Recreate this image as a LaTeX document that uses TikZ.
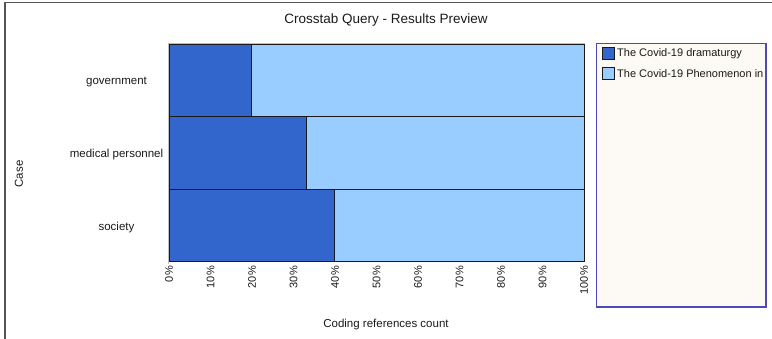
\documentclass[tikz,border=0pt]{standalone}
\usepackage{fontspec}
\setmainfont{Liberation Sans}
\definecolor{darkbar}{HTML}{3366CC}
\definecolor{lightbar}{HTML}{99CCFF}
\definecolor{legborder}{HTML}{4A4AB8}
\definecolor{legfill}{HTML}{FDFAF5}
\definecolor{framegray}{HTML}{555555}
\definecolor{textgray}{HTML}{1A1A1A}
\tikzset{
  barseg/.style={draw=black!90, line width=1pt},
  ticklab/.style={rotate=90, anchor=east, inner sep=0pt, font=\fontsize{11}{12}\selectfont, text=textgray},
  caselab/.style={anchor=center, inner sep=0pt, font=\fontsize{11.5}{13}\selectfont, text=textgray},
  legsq/.style={draw=black!90, line width=0.8pt},
  legtext/.style={anchor=west, inner sep=0pt, font=\fontsize{11}{12}\selectfont, text=textgray},
}
\begin{document}
\begin{tikzpicture}[x=1pt,y=-1pt]
\useasboundingbox (0,0) rectangle (772,339);
% outer frame
\draw[framegray, line width=1.2pt] (5,339) -- (5,2.5) -- (772,2.5);
% title
\node[font=\fontsize{13.5}{16}\selectfont, text=textgray] (title) at (386,20) {Crosstab Query - Results Preview};
% faint plot outline
\draw[black!25, line width=1pt] (168,264) -- (168,44) -- (585,44);
% bars
\filldraw[fill=darkbar, barseg] (169,45) rectangle (251.5,117);
\filldraw[fill=lightbar, barseg] (251.5,45) rectangle (584,117);
\filldraw[fill=darkbar, barseg] (169,117) rectangle (306,189.5);
\filldraw[fill=lightbar, barseg] (306,117) rectangle (584,189.5);
\filldraw[fill=darkbar, barseg] (169,189.5) rectangle (334.5,262);
\filldraw[fill=lightbar, barseg] (334.5,189.5) rectangle (584,262);
% case labels
\node[caselab] (gov) at (116.5,81.5) {government};
\node[caselab] (med) at (116.5,154.5) {medical personnel};
\node[caselab] (soc) at (116.5,227.5) {society};
\node[caselab, rotate=90] (case) at (19,174) {Case};
% ticks
\foreach \i/\t in {0/0,1/10,2/20,3/30,4/40,5/50,6/60,7/70,8/80,9/90,10/100}{
  \node[ticklab] (tick\i) at ({169+41.5*\i},266) {\t\%};
}
\node[caselab] (xlab) at (386,325) {Coding references count};
% legend
\filldraw[fill=legfill, draw=legborder, line width=1.4pt] (596.5,43.5) rectangle (766,307);
\filldraw[fill=darkbar, legsq] (602,47.5) rectangle (614,59.5);
\filldraw[fill=lightbar, legsq] (602,67.5) rectangle (614,79.5);
\node[legtext] (leg1) at (617,54) {The Covid-19 dramaturgy};
\node[legtext] (leg2) at (617,74) {The Covid-19 Phenomenon in};
\end{tikzpicture}
\end{document}
